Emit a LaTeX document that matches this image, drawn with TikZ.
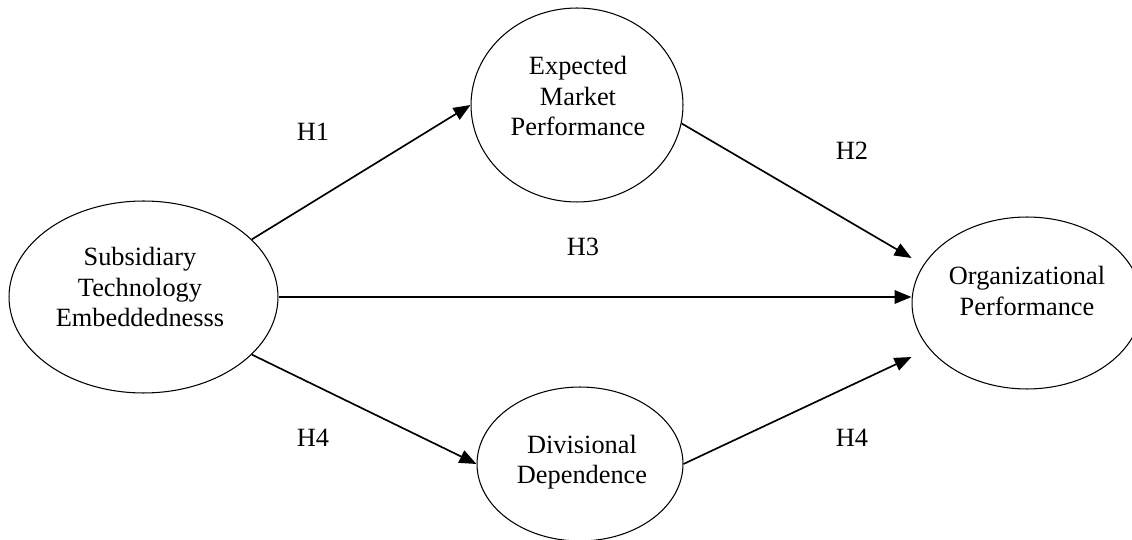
\documentclass[tikz,border=0pt]{standalone}
\usepackage{fontspec}
\setmainfont{Liberation Serif}
\usetikzlibrary{shapes.geometric, arrows.meta, positioning, calc}

\begin{document}
\begin{tikzpicture}[
    x=0.02cm, y=-0.02cm,
    construct/.style={draw, ellipse, line width=0.6pt, inner sep=0pt},
    ctext/.style={align=center, font=\fontsize{15}{17.3}\selectfont},
    hyp/.style={font=\fontsize{15}{17.3}\selectfont},
    link/.style={-{Triangle[length=0.34cm, width=0.27cm]}, line width=0.95pt},
]
    \useasboundingbox (0,0) rectangle (1132,540);

    % constructs
    \node[construct, minimum width=5.38cm, minimum height=3.84cm] (ste) at (143.5,297) {};
    \node[construct, minimum width=4.24cm, minimum height=3.88cm] (emp) at (577,105) {};
    \node[construct, minimum width=4.6cm, minimum height=3.44cm] (op) at (1027,303) {};
    \node[construct, minimum width=4.12cm, minimum height=3.08cm] (dd) at (580,464) {};

    \node[ctext] (ste-txt) at (140,287) {Subsidiary\\Technology\\Embeddednesss};
    \node[ctext] (emp-txt) at (578,96) {Expected\\Market\\Performance};
    \node[ctext] (op-txt) at (1027,291) {Organizational\\Performance};
    \node[ctext] (dd-txt) at (582,462) {Divisional\\Dependence};

    % hypotheses
    \draw[link] (ste.28) -- (emp.west);
    \draw[link] (emp.-10) -- ($(op.west)+(0,-45)$);
    \draw[link, line width=1.15pt] (ste.east) -- (ste.east -| op.west);
    \draw[link] (ste.-28) -- (dd.west);
    \draw[link] (dd.east) -- ($(op.west)+(0,54)$);

    \node[hyp] (h1) at (313,132) {H1};
    \node[hyp] (h2) at (852,151) {H2};
    \node[hyp] (h3) at (583,247) {H3};
    \node[hyp] (h4a) at (313,438) {H4};
    \node[hyp] (h4b) at (852,438) {H4};
\end{tikzpicture}
\end{document}
